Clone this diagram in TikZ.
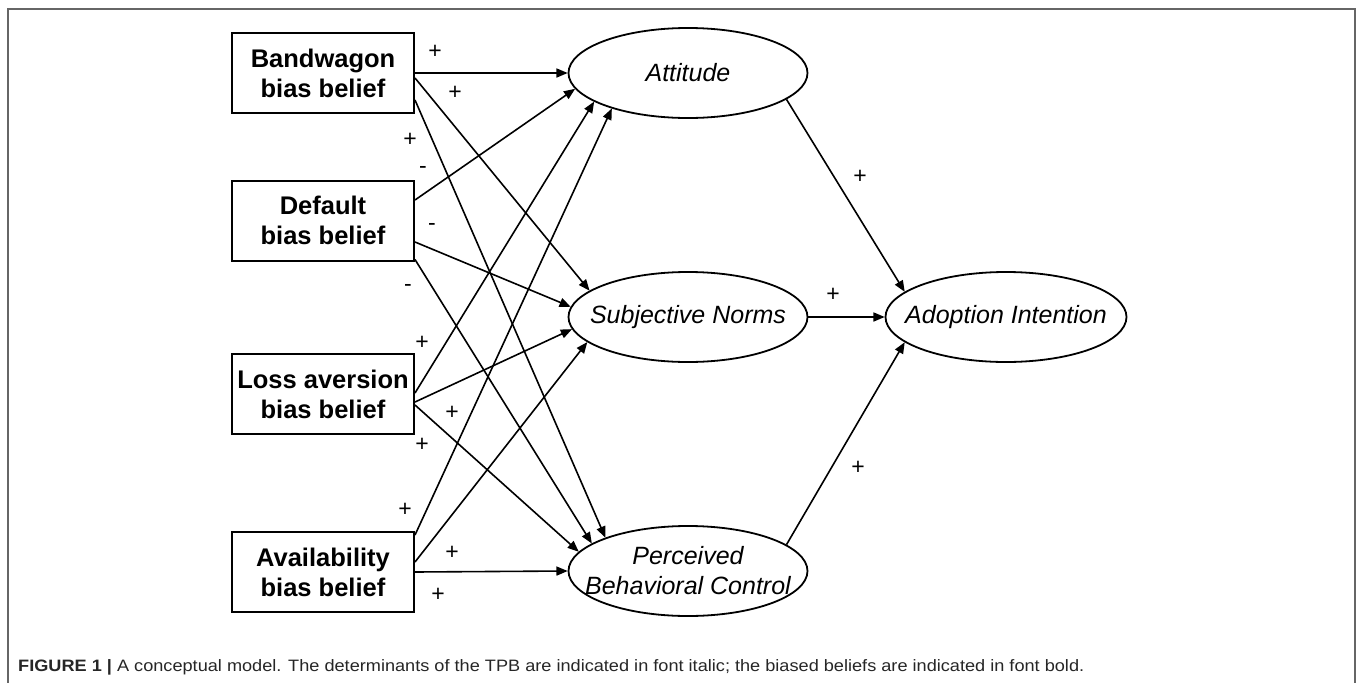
\documentclass[tikz,border=0pt]{standalone}
\usepackage{fontspec}
\setmainfont{Liberation Sans}
\newfontfamily\capfont[FakeStretch=1.1]{Liberation Sans}
\usetikzlibrary{shapes}
\usetikzlibrary{arrows}
\tikzset{belief/.style={rectangle,draw,line width=2pt,minimum width=182pt,
minimum height=80pt,inner sep=0pt,align=center,
font=\bfseries\fontsize{25.5}{30}\selectfont},
determinant/.style={ellipse,draw,line width=1.8pt,minimum width=239pt,
minimum height=90pt,inner sep=0pt},
tpb/.style={font=\itshape\fontsize{25}{30}\selectfont,align=center},
sign/.style={font=\fontsize{23}{23}\selectfont,inner sep=0pt},
link/.style={->,line width=1.6pt},
panel/.style={draw=black!60,line width=1.3pt},
>={triangle 45}}

\begin{document}
\begin{tikzpicture}[x=1pt,y=-1pt]
  \useasboundingbox (0,0) rectangle (1358,683);
  \draw [panel] (8,683) -- (8,9) -- (1355,9) -- (1355,683);

  % biased beliefs
  \node (bw) [belief] at (323,73) {Bandwagon\\bias belief};
  \node (df) [belief] at (323,220.5) {Default\\bias belief};
  \node (la) [belief] at (323,394) {Loss aversion\\bias belief};
  \node (av) [belief] at (323,572) {Availability\\bias belief};

  % TPB determinants
  \node (att) [determinant,label={[tpb]center:Attitude}] at (688,73) {};
  \node (sn) [determinant,label={[tpb]center:Subjective Norms}] at (688,317) {};
  \node (pbc) [determinant,label={[tpb]center:Perceived\\Behavioral Control}] at (688,571) {};
  \node (ai) [determinant,minimum width=241pt,label={[tpb]center:Adoption Intention}] at (1006,317) {};

  \draw [link] (bw.east) -- (att.west);
  \draw [link] ([yshift=-5pt]bw.east) -- (sn.165);
  \draw [link] ([yshift=-27pt]bw.east) -- (pbc.158);
  \draw [link] ([yshift=20.5pt]df.east) -- (att.188);
  \draw [link] ([yshift=-21.5pt]df.east) -- (sn.175);
  \draw [link] ([yshift=-39pt]df.east) -- (pbc.164);
  \draw [link] ([yshift=1pt]la.east) -- (att.197);
  \draw [link] ([yshift=-8pt]la.east) -- (sn.186);
  \draw [link] ([yshift=-11pt]la.east) -- (pbc.170);
  \draw [link] ([yshift=37pt]av.east) -- (att.205);
  \draw [link] ([yshift=10pt]av.east) -- (sn.194);
  \draw [link] (av.east) -- (pbc.west);
  \draw [link] (att.-15) -- (ai.166);
  \draw [link] (sn.east) -- (ai.west);
  \draw [link] (pbc.15) -- (ai.194);

  % signs of the paths
  \foreach \x/\y/\s [count=\i] in {435/52/+,455/93/+,410/140/+,
    423/170/-,432/227/-,408/288/-,422/343/+,452/413/+,422/445/+,
    405/510/+,452/553/+,438/595/+,860/177/+,833/295/+,858/468/+}
    \node (sign\i) [sign] at (\x,\y) {\s};

  \node (caption) [anchor=base west,inner sep=0pt,text=black!85,
    font=\capfont\fontsize{16.5}{16.5}\selectfont] at (18,671)
    {\textbf{FIGURE 1 |} A conceptual model. The determinants of the TPB are indicated in font italic; the biased beliefs are indicated in font bold.};
\end{tikzpicture}
\end{document}
